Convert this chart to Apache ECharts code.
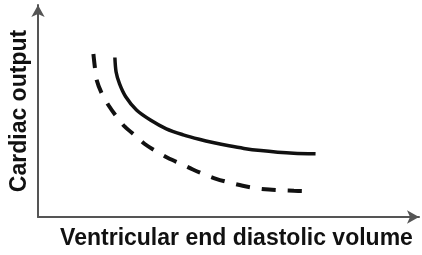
<!DOCTYPE html>
<html>
<head>
<meta charset="utf-8">
<script src="https://cdn.jsdelivr.net/npm/echarts@6/dist/echarts.min.js"></script>
<style>
  html, body { margin: 0; padding: 0; background: #fff; }
  #chart { width: 422px; height: 255px; }
</style>
</head>
<body>
<div id="chart"></div>
<script>
// arbitrary units, 0-100 on both axes
const solidX = [20.18, 20.50, 21.41, 22.98, 25.85, 29.50, 33.68, 38.12, 42.30, 46.21, 50.13, 54.05, 58.49, 62.92, 67.10, 72.85];
const solidY = [75.24, 68.40, 62.74, 56.84, 50.47, 45.75, 41.60, 38.77, 36.65, 35.00, 33.58, 32.36, 31.32, 30.57, 30.09, 29.81];
const dashedX = [14.54, 14.96, 15.40, 16.71, 18.46, 20.63, 22.79, 25.85, 28.02, 31.07, 34.13, 37.60, 40.65, 43.68, 46.74, 50.65, 53.71, 57.18, 60.65, 64.15, 67.18, 69.79];
const dashedY = [76.89, 70.14, 64.62, 58.35, 52.83, 47.31, 42.59, 37.88, 34.43, 30.90, 27.83, 25.00, 22.41, 20.05, 18.02, 16.04, 14.72, 13.58, 12.92, 12.55, 12.36, 12.26];
const xName = 'Ventricular end diastolic volume';
const yName = 'Cardiac output';

const pairs = (xs, ys) => xs.map((x, i) => [x, ys[i]]);

const myChart = echarts.init(document.getElementById('chart'));

const axisCommon = {
    type: 'value',
    min: 0,
    max: 100,
    nameLocation: 'middle',
    nameTextStyle: {
        fontFamily: 'Liberation Sans, Arial, sans-serif',
        fontWeight: 'bold',
        fontSize: 23,
        color: '#111',
    },
    axisLine: {
        show: true,
        symbol: ['none', 'arrow'],
        symbolSize: [10, 12],
        lineStyle: { color: '#555', width: 2 },
    },
    axisTick: { show: false },
    axisLabel: { show: false },
    splitLine: { show: false },
};

const option = {
    animation: false,
    grid: { left: 36, right: 3, top: 5, bottom: 38 },
    xAxis: Object.assign({}, axisCommon, {
        name: xName,
        nameGap: 10,
        nameTextStyle: Object.assign({}, axisCommon.nameTextStyle, { padding: [0, 0, 0, 16] }),
    }),
    yAxis: Object.assign({}, axisCommon, { name: yName, nameGap: 7 }),
    series: [
        {
            type: 'line',
            data: pairs(solidX, solidY),
            smooth: 0.3,
            showSymbol: false,
            lineStyle: { color: '#111', width: 3.5 },
        },
        {
            type: 'line',
            data: pairs(dashedX, dashedY),
            smooth: 0.3,
            showSymbol: false,
            lineStyle: { color: '#111', width: 4, type: [14, 12] },
        },
    ],
};

myChart.setOption(option);
</script>
</body>
</html>
